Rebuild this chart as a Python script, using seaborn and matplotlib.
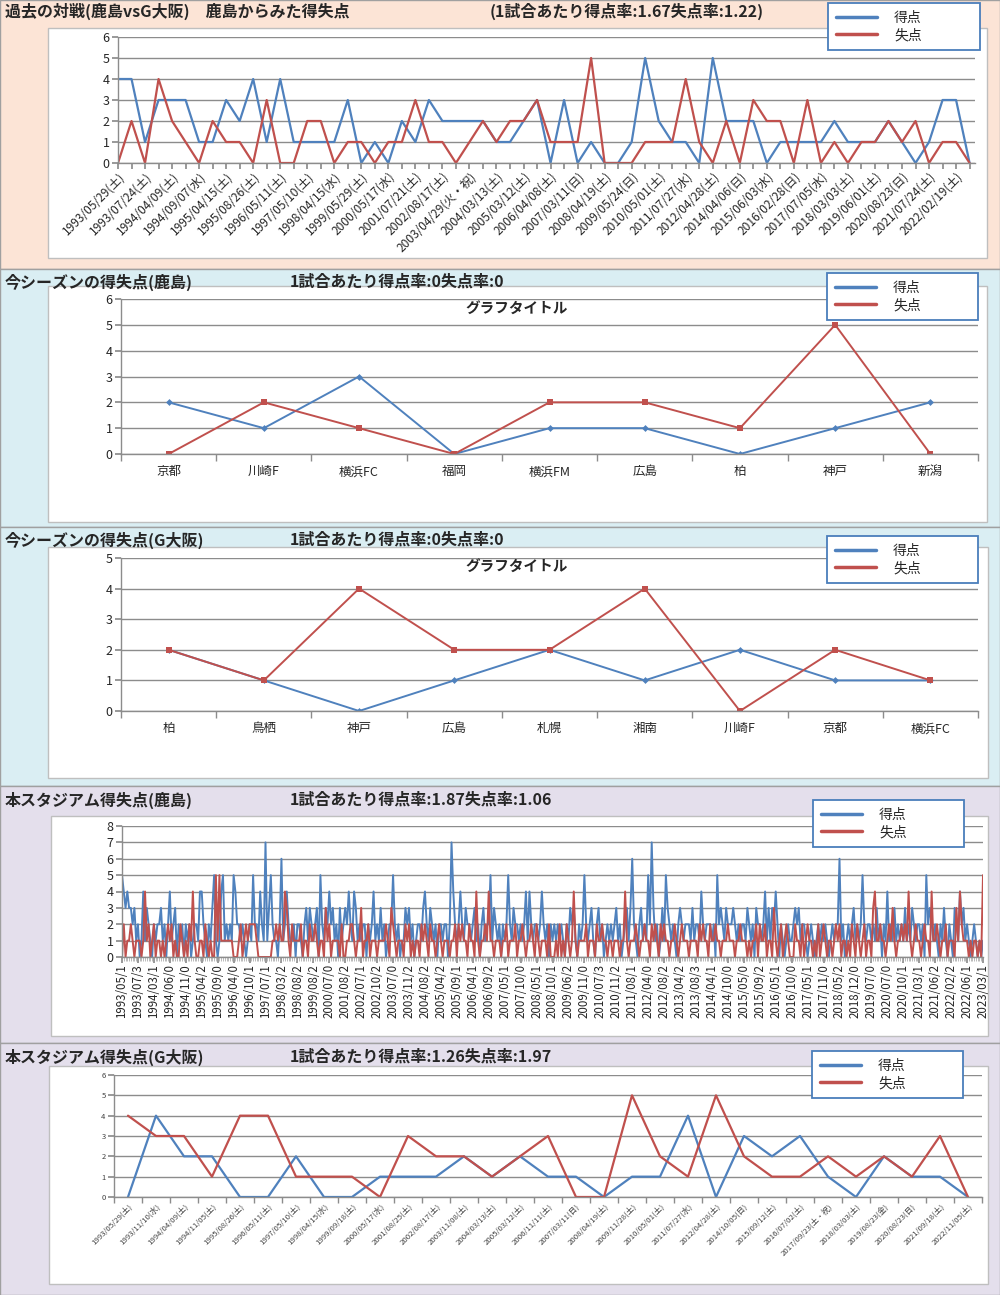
import numpy as np
import matplotlib.pyplot as plt
import matplotlib.patches as mpatches
from matplotlib.lines import Line2D
import seaborn as sns

W, H = 1000, 1295
BLUE = '#4F81BD'
RED = '#C0504D'
GRID = '#8c8c8c'

# --- Data: past head-to-head (Kashima view) ---
h2h_labels = ['1993/05/29(土)', '1993/07/24(土)', '1994/04/09(土)', '1994/09/07(水)', '1995/04/15(土)',
              '1995/08/26(土)', '1996/05/11(土)', '1997/05/10(土)', '1998/04/15(水)', '1999/05/29(土)',
              '2000/05/17(水)', '2001/07/21(土)', '2002/08/17(土)', '2003/04/29(火・祝)', '2004/03/13(土)',
              '2005/03/12(土)', '2006/04/08(土)', '2007/03/11(日)', '2008/04/19(土)', '2009/05/24(日)',
              '2010/05/01(土)', '2011/07/27(水)', '2012/04/28(土)', '2014/04/06(日)', '2015/06/03(水)',
              '2016/02/28(日)', '2017/07/05(水)', '2018/03/03(土)', '2019/06/01(土)', '2020/08/23(日)',
              '2021/07/24(土)', '2022/02/19(土)']
h2h_gf = [4, 4, 1, 3, 3, 3, 1, 1, 3, 2, 4, 1, 4, 1, 1, 1, 1, 3, 0, 1, 0, 2, 1, 3, 2, 2, 2, 2, 1,
          1, 2, 3, 0, 3, 0, 1, 0, 0, 1, 5, 2, 1, 1, 0, 5, 2, 2, 2, 0, 1, 1, 1, 1, 2, 1, 1, 1, 2, 1, 0, 1, 3, 3, 0]
h2h_ga = [0, 2, 0, 4, 2, 1, 0, 2, 1, 1, 0, 3, 0, 0, 2, 2, 0, 1, 1, 0, 1, 1, 3, 1, 1, 0, 1, 2, 1,
          2, 2, 3, 1, 1, 1, 5, 0, 0, 0, 1, 1, 1, 4, 1, 0, 2, 0, 3, 2, 2, 0, 3, 0, 1, 0, 1, 1, 2, 1, 2, 0, 1, 1, 0]

# --- Data: this season, Kashima ---
kashima_opp = ['京都', '川崎F', '横浜FC', '福岡', '横浜FM', '広島', '柏', '神戸', '新潟']
kashima_gf = [2, 1, 3, 0, 1, 1, 0, 1, 2]
kashima_ga = [0, 2, 1, 0, 2, 2, 1, 5, 0]

# --- Data: this season, G Osaka ---
gosaka_opp = ['柏', '鳥栖', '神戸', '広島', '札幌', '湘南', '川崎F', '京都', '横浜FC']
gosaka_gf = [2, 1, 0, 1, 2, 1, 2, 1, 1]
gosaka_ga = [2, 1, 4, 2, 2, 4, 0, 2, 1]

# --- Data: Kashima at this stadium (read roughly, 9 games per label) ---
stadium_k_labels = ['1993/05/1', '1993/07/3', '1994/03/1', '1994/06/0', '1994/11/0', '1995/04/2', '1995/09/0',
                    '1996/04/0', '1996/10/1', '1997/07/1', '1998/03/2', '1998/08/2', '1999/08/2', '2000/07/0',
                    '2001/08/2', '2002/07/1', '2002/10/2', '2003/07/0', '2003/11/2', '2004/08/2', '2005/04/2',
                    '2005/09/1', '2006/04/1', '2006/09/2', '2007/05/1', '2007/10/0', '2008/05/1', '2008/10/1',
                    '2009/06/2', '2009/11/0', '2010/07/3', '2010/11/2', '2011/08/1', '2012/04/0', '2012/08/2',
                    '2013/04/2', '2013/08/3', '2014/04/1', '2014/10/0', '2015/05/0', '2015/09/2', '2016/05/1',
                    '2016/10/0', '2017/05/1', '2017/11/0', '2018/05/2', '2018/12/0', '2019/07/0', '2020/07/0',
                    '2020/10/1', '2021/03/1', '2021/06/2', '2022/02/2', '2022/06/1', '2023/03/1']
stadium_k_gf_txt = """
543433231 201413210 212231202 412302120 212012214 421021351 014512121 542212101 215221421
713521102 612421120 221023132 123052132 423120312 324214312 122021241 213120122 521201132
312012213 421321202 212202742 124213221 231202312 251321202 125213221 212414212 212421202
121212102 132310212 521231023 120121212 312012313 621023121 527312013 153212102 321222131
221421222 120523213 222321212 213212032 212413132 420210121 123231221 012101212 121012122
612012123 121252122 121312021 412131212 131213212 212052321 210213102 103214231 210121010 1
"""
stadium_k_ga_txt = """
020112101 110141201 201101012 120100210 102141001 102101005 151111111 000120121 222210000
000011212 114310211 112011021 121011031 201111020 011221011 301120111 011112103 210111021
201011021 210211012 101110112 021211021 104101121 411011101 120111201 121011210 210111020
001020102 101410111 120111021 121101101 110114101 112101121 102121021 211011210 121110111
102121102 112110111 211101121 110101120 211201103 101201210 002110201 211010201 210110121
201101021 021012011 034112110 121310112 121410121 101211041 121011201 110314211 101011010 5
"""
stadium_k_gf = [int(c) for c in stadium_k_gf_txt if c.isdigit()]
stadium_k_ga = [int(c) for c in stadium_k_ga_txt if c.isdigit()]

# --- Data: G Osaka at this stadium ---
stadium_g_labels = ['1993/05/29(土)', '1993/11/10(水)', '1994/04/09(土)', '1994/11/05(土)', '1995/08/26(土)',
                    '1996/05/11(土)', '1997/05/10(土)', '1998/04/15(水)', '1999/09/18(土)', '2000/05/17(水)',
                    '2001/08/25(土)', '2002/08/17(土)', '2003/11/08(土)', '2004/03/13(土)', '2005/03/12(土)',
                    '2006/11/11(土)', '2007/03/11(日)', '2008/04/19(土)', '2009/11/28(土)', '2010/05/01(土)',
                    '2011/07/27(水)', '2012/04/28(土)', '2014/10/05(日)', '2015/09/12(土)', '2016/07/02(土)',
                    '2017/09/23(土・祝)', '2018/03/03(土)', '2019/08/23(金)', '2020/08/23(日)', '2021/09/18(土)',
                    '2022/11/05(土)']
stadium_g_gf = [0, 4, 2, 2, 0, 0, 2, 0, 0, 1, 1, 1, 2, 1, 2, 1, 1, 0, 1, 1, 4, 0, 3, 2, 3, 1, 0, 2, 1, 1, 0]
stadium_g_ga = [4, 3, 3, 1, 4, 4, 1, 1, 1, 0, 3, 2, 2, 1, 2, 3, 0, 0, 5, 2, 1, 5, 2, 1, 1, 2, 1, 2, 1, 3, 0]

titles = [
    ('過去の対戦(鹿島vsG大阪)　鹿島からみた得失点', '(1試合あたり得点率:1.67失点率:1.22)', 11, 490),
    ('今シーズンの得失点(鹿島)', '1試合あたり得点率:0失点率:0', 282, 290),
    ('今シーズンの得失点(G大阪)', '1試合あたり得点率:0失点率:0', 540, 290),
    ('本スタジアム得失点(鹿島)', '1試合あたり得点率:1.87失点率:1.06', 800, 290),
    ('本スタジアム得失点(G大阪)', '1試合あたり得点率:1.26失点率:1.97', 1057, 290),
]

sns.set_theme(style='white')
plt.rcParams['font.family'] = ['Noto Sans CJK JP', 'DejaVu Sans']

fig = plt.figure(figsize=(W / 100, H / 100), dpi=100)
fig.patch.set_facecolor('white')


def frac(x0, y0, x1, y1):
    return [x0 / W, 1 - y1 / H, (x1 - x0) / W, (y1 - y0) / H]


def add_box(x0, y0, x1, y1, face, edge, z):
    l, b, w, h = frac(x0, y0, x1, y1)
    fig.add_artist(mpatches.Rectangle((l, b), w, h, transform=fig.transFigure,
                                      facecolor=face, edgecolor=edge, lw=1, zorder=z))


# section backgrounds
add_box(0, 0, 1000, 269, '#FCE4D6', '#a0a0a0', -3)
add_box(0, 269, 1000, 527, '#DAEEF3', '#a0a0a0', -3)
add_box(0, 527, 1000, 786, '#DAEEF3', '#a0a0a0', -3)
add_box(0, 786, 1000, 1043, '#E4DFEC', '#a0a0a0', -3)
add_box(0, 1043, 1000, 1295, '#E4DFEC', '#a0a0a0', -3)
# white chart boxes
add_box(48, 28, 987, 258, 'white', '#bfbfbf', -2)
add_box(48, 286, 987, 522, 'white', '#bfbfbf', -2)
add_box(48, 547, 988, 778, 'white', '#bfbfbf', -2)
add_box(51, 816, 988, 1036, 'white', '#bfbfbf', -2)
add_box(49, 1066, 988, 1284, 'white', '#bfbfbf', -2)

for t, rate, y, xr in titles:
    fig.text(5 / W, 1 - y / H, t, fontsize=11.5, fontweight='bold', va='center', ha='left')
    fig.text(xr / W, 1 - y / H, rate, fontsize=11.5, fontweight='bold', va='center', ha='left')


def style_axes(ax, ymax, ysize):
    ax.set_ylim(0, ymax)
    ax.set_yticks(range(ymax + 1))
    ax.yaxis.grid(True, color=GRID, lw=1)
    ax.xaxis.grid(False)
    ax.set_axisbelow(True)
    for s in ['top', 'right']:
        ax.spines[s].set_visible(False)
    for s in ['left', 'bottom']:
        ax.spines[s].set_color(GRID)
        ax.spines[s].set_linewidth(1)
    ax.tick_params(axis='y', left=True, length=4, color=GRID, labelsize=ysize, pad=2)
    ax.set_xlabel('')
    ax.set_ylabel('')


def add_legend(ax, x0, y0, x1, y1, size=10):
    handles = [Line2D([], [], color=BLUE, lw=2.5), Line2D([], [], color=RED, lw=2.5)]
    leg = ax.legend(handles, ['得点', '失点'], loc='upper left', bbox_to_anchor=frac(x0, y0, x1, y1),
                    bbox_transform=fig.transFigure, mode='expand', fontsize=size, frameon=True,
                    fancybox=False, handlelength=3.0, handletextpad=1.2, borderpad=0.55,
                    labelspacing=0.25, borderaxespad=0)
    leg.get_frame().set_edgecolor('#4a7ebb')
    leg.get_frame().set_linewidth(1.3)
    leg.get_frame().set_facecolor('white')
    leg.get_frame().set_alpha(1)


def draw_lines(ax, gf, ga, lw, **kw):
    idx = np.arange(len(gf))
    sns.lineplot(x=idx, y=gf, ax=ax, color=BLUE, lw=lw, **kw.get('blue', {}))
    sns.lineplot(x=idx, y=ga, ax=ax, color=RED, lw=lw, **kw.get('red', {}))


# --- Panel 1: head-to-head history ---
ax1 = fig.add_axes(frac(118, 37, 975, 163))
draw_lines(ax1, h2h_gf, h2h_ga, 1.6)
style_axes(ax1, 6, 9)
n1 = len(h2h_gf)
ax1.set_xlim(0, n1 - 1 + 0.4)
lab1 = [''] * n1
for k, s in enumerate(h2h_labels):
    lab1[2 * k] = s
ax1.set_xticks(range(n1))
ax1.set_xticklabels(lab1, rotation=45, ha='right', rotation_mode='anchor', fontsize=8.6)
ax1.tick_params(axis='x', bottom=True, length=4, color=GRID, pad=1)
add_legend(ax1, 828, 3, 980, 53)

# --- Panels 2 & 3: this season ---
for rect, opp, gf, ga, ymax, leg_rect, title_y in [
        ((121, 299, 978, 454), kashima_opp, kashima_gf, kashima_ga, 6, (827, 273, 978, 323), 308),
        ((121, 558, 978, 711), gosaka_opp, gosaka_gf, gosaka_ga, 5, (827, 536, 978, 587), 566)]:
    ax = fig.add_axes(frac(*rect))
    draw_lines(ax, gf, ga, 1.4,
               blue={'marker': 'D', 'markersize': 3.5, 'markeredgewidth': 0},
               red={'marker': 's', 'markersize': 4.5, 'markeredgewidth': 0})
    style_axes(ax, ymax, 9)
    n = len(opp)
    ax.set_xlim(-0.5, n - 0.5)
    ax.set_xticks(range(n))
    ax.set_xticklabels(opp, fontsize=9)
    ax.set_xticks(np.arange(-0.5, n, 1), minor=True)
    ax.tick_params(axis='x', which='major', bottom=False, length=0, pad=8)
    ax.tick_params(axis='x', which='minor', bottom=True, length=5, color=GRID)
    add_legend(ax, *leg_rect)
    fig.text(517 / W, 1 - title_y / H, 'グラフタイトル', fontsize=10.5, fontweight='bold',
             ha='center', va='center')

# --- Panel 4: Kashima at stadium ---
ax4 = fig.add_axes(frac(122, 826, 983, 957))
draw_lines(ax4, stadium_k_gf, stadium_k_ga, 1.4)
style_axes(ax4, 8, 9)
n4 = len(stadium_k_gf)
ax4.set_xlim(0, n4 - 1)
ax4.set_xticks(np.arange(len(stadium_k_labels)) * 9)
ax4.set_xticklabels(stadium_k_labels, rotation=90, fontsize=8.3)
ax4.set_xticks(np.arange(n4), minor=True)
ax4.tick_params(axis='x', which='major', bottom=True, length=4, color=GRID, pad=1)
ax4.tick_params(axis='x', which='minor', bottom=True, length=3, color='#b0b0b0', width=0.6)
add_legend(ax4, 813, 800, 964, 851)

# --- Panel 5: G Osaka at stadium ---
ax5 = fig.add_axes(frac(114, 1075, 982, 1197))
draw_lines(ax5, stadium_g_gf, stadium_g_ga, 1.6)
style_axes(ax5, 6, 5.5)
n5 = len(stadium_g_gf)
ax5.set_xlim(-0.5, n5 - 0.5)
ax5.set_xticks(range(n5))
ax5.set_xticklabels(stadium_g_labels, rotation=45, ha='right', rotation_mode='anchor',
                    fontsize=5.6, color='#404040')
ax5.set_xticks(np.arange(-0.5, n5, 1), minor=True)
ax5.tick_params(axis='x', which='major', bottom=False, length=0, pad=4)
ax5.tick_params(axis='x', which='minor', bottom=True, length=4, color=GRID)
ax5.tick_params(axis='y', labelcolor='#404040')
add_legend(ax5, 812, 1051, 963, 1101)

fig.savefig('out.png', dpi=100)
